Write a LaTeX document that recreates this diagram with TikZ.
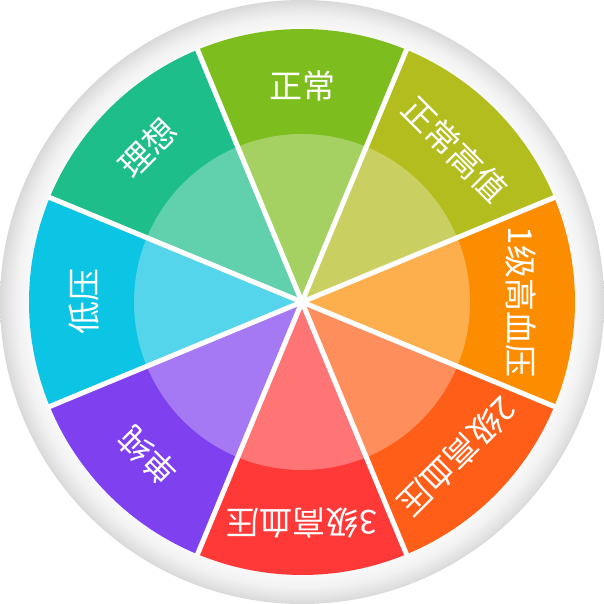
\documentclass[tikz,border=0pt]{standalone}
\usepackage{xcolor}
\usepackage{fontspec}
\newfontfamily\cjk{Noto Sans CJK SC}
\usepackage{tikz}
\usetikzlibrary{calc}

\definecolor{cIdeal}{HTML}{1DBE8A}
\definecolor{cNormal}{HTML}{7DBE1E}
\definecolor{cHighNormal}{HTML}{B3BD1E}
\definecolor{cGradeOne}{HTML}{FD8D00}
\definecolor{cGradeTwo}{HTML}{FF5E18}
\definecolor{cGradeThree}{HTML}{FF3838}
\definecolor{cSimple}{HTML}{7F40EF}
\definecolor{cLow}{HTML}{0CC4E4}

\pgfdeclareradialshading{ringshade}{\pgfpoint{0bp}{0bp}}{%
  color(0bp)=(white); color(22.4bp)=(black!2); color(23.6bp)=(black!5);
  color(24.5bp)=(black!11); color(25bp)=(black!15); color(50bp)=(black!15)}

\tikzset{
  sectorlabel/.style={text=white,font=\cjk\fontsize{16.5}{16.5}\selectfont,inner sep=0pt},
  spoke/.style={white,line width=2.5pt}
}

\begin{document}
\begin{tikzpicture}[x=0.5pt,y=0.5pt]
  \useasboundingbox (-302,-302) rectangle (302,302);
  % outer ring
  \shade[shading=ringshade] (0,0) circle (302);
  % coloured sectors
  \foreach \a/\col in {90/cNormal,45/cHighNormal,0/cGradeOne,-45/cGradeTwo,
                       -90/cGradeThree,-135/cSimple,180/cLow,135/cIdeal}
    \fill[\col] (0,0) -- (\a-22.5:273) arc[start angle=\a-22.5,end angle=\a+22.5,radius=273] -- cycle;
  % light inner disc
  \fill[white,opacity=0.3] (0,0) circle (168);
  % spokes
  \foreach \a in {22.5,67.5,...,337.5}
    \draw[spoke] (0,0) -- (\a:274);
  % labels
  \node[sectorlabel,rotate=0]    (normal)     at (90:216)   {正常};
  \node[sectorlabel,rotate=-45]  (highnormal) at (45:216)   {正常高值};
  \node[sectorlabel,rotate=-90]  (gradeone)   at (0:219)    {1级高血压};
  \node[sectorlabel,rotate=-135] (gradetwo)   at (-45:219)  {2级高血压};
  \node[sectorlabel,rotate=180]  (gradethree) at (-90:221)  {3级高血压};
  \node[sectorlabel,rotate=135]  (simple)     at (-135:218) {单纯};
  \node[sectorlabel,rotate=90]   (low)        at (180:218)  {低压};
  \node[sectorlabel,rotate=45]   (ideal)      at (135:218)  {理想};
\end{tikzpicture}
\end{document}
